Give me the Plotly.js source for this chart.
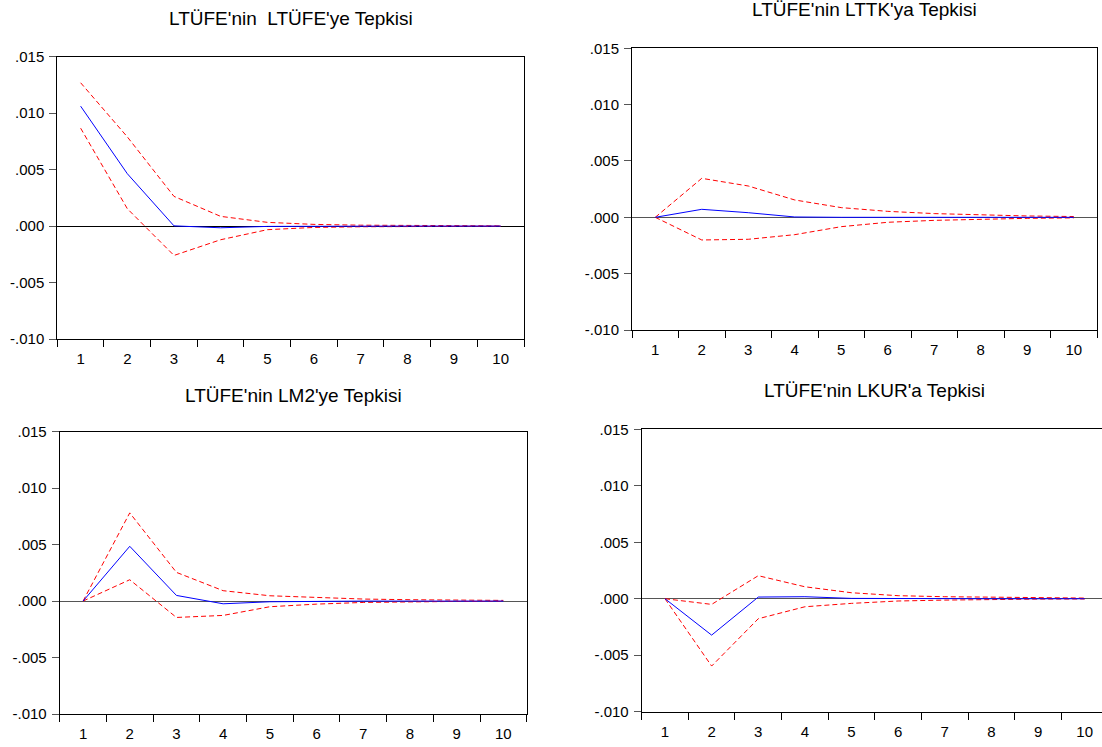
<!DOCTYPE html>
<html>
<head>
<meta charset="utf-8">
<script src="https://cdn.plot.ly/plotly-3.0.1.min.js"></script>
<style>
html,body{margin:0;padding:0;overflow:hidden;background:#fff;}
#chart{width:1110px;height:747px;}
</style>
</head>
<body>
<div id="chart"></div>
<script>
// ---- data ----
const periods = ["1","2","3","4","5","6","7","8","9","10"];
const yTickVals = [-0.010, -0.005, 0.000, 0.005, 0.010, 0.015];
const yTickText = ["-.010", "-.005", ".000", ".005", ".010", ".015"];
const titles = [
  "LTÜFE'nin \u00a0LTÜFE'ye Tepkisi",
  "LTÜFE'nin LTTK'ya Tepkisi",
  "LTÜFE'nin LM2'ye Tepkisi",
  "LTÜFE'nin LKUR'a Tepkisi"
];
// LTÜFE -> LTÜFE
const resp1  = [0.01062, 0.00464, 0.00002, -0.00015, -0.00003, 0.00000, 0.00000, 0.00000, 0.00000, 0.00000];
const upper1 = [0.01269, 0.00790, 0.00263, 0.00086, 0.00033, 0.00015, 0.00008, 0.00005, 0.00003, 0.00002];
const lower1 = [0.00867, 0.00154, -0.00260, -0.00121, -0.00032, -0.00012, -0.00006, -0.00003, -0.00002, -0.00001];
// LTÜFE -> LTTK
const resp2  = [0.00000, 0.00071, 0.00041, 0.00003, 0.00000, 0.00000, 0.00000, 0.00000, 0.00000, 0.00000];
const upper2 = [0.00000, 0.00346, 0.00278, 0.00154, 0.00086, 0.00053, 0.00033, 0.00020, 0.00012, 0.00007];
const lower2 = [0.00000, -0.00201, -0.00195, -0.00154, -0.00083, -0.00044, -0.00027, -0.00015, -0.00009, -0.00005];
// LTÜFE -> LM2
const resp3  = [0.00000, 0.00485, 0.00050, -0.00024, -0.00006, 0.00000, 0.00000, 0.00000, 0.00000, 0.00000];
const upper3 = [0.00000, 0.00781, 0.00254, 0.00092, 0.00047, 0.00030, 0.00018, 0.00012, 0.00009, 0.00006];
const lower3 = [0.00000, 0.00189, -0.00145, -0.00127, -0.00050, -0.00027, -0.00012, -0.00006, -0.00003, -0.00002];
// LTÜFE -> LKUR
const resp4  = [0.00000, -0.00322, 0.00015, 0.00018, 0.00003, 0.00000, 0.00000, 0.00000, 0.00000, 0.00000];
const upper4 = [0.00000, -0.00050, 0.00204, 0.00106, 0.00053, 0.00027, 0.00018, 0.00012, 0.00009, 0.00006];
const lower4 = [0.00000, -0.00596, -0.00177, -0.00071, -0.00041, -0.00020, -0.00012, -0.00006, -0.00003, -0.00002];

const panels = [
  {resp: resp1, upper: upper1, lower: lower1},
  {resp: resp2, upper: upper2, lower: lower2},
  {resp: resp3, upper: upper3, lower: lower3},
  {resp: resp4, upper: upper4, lower: lower4}
];

// ---- layout geometry (pixels) ----
const W = 1110, H = 747;
const boxes = [
  {l: 57.3, r: 524.0, t: 56.7, b: 339.0, ty: 19, zc: "#000000"},
  {l: 632.0, r: 1097.0, t: 48.3, b: 330.0, ty: 10, zc: "#555555"},
  {l: 59.7, r: 526.7, t: 431.7, b: 714.0, ty: 395, zc: "#555555"},
  {l: 641.7, r: 1108.0, t: 429.3, b: 711.7, ty: 391, zc: "#555555"}
];
const FONT = "Arial, 'Liberation Sans', sans-serif";

const traces = [];
const layout = {
  width: W, height: H,
  margin: {l: 0, r: 0, t: 0, b: 0, pad: 0},
  paper_bgcolor: "#ffffff",
  plot_bgcolor: "rgba(0,0,0,0)",
  showlegend: false,
  font: {family: FONT, size: 15, color: "#000000"},
  annotations: []
};

panels.forEach((p, i) => {
  const n = i + 1;
  const xa = "x" + (n === 1 ? "" : n), ya = "y" + (n === 1 ? "" : n);
  const xk = "xaxis" + (n === 1 ? "" : n), yk = "yaxis" + (n === 1 ? "" : n);
  const bx = boxes[i];
  traces.push({x: periods, y: p.upper, xaxis: xa, yaxis: ya, type: "scatter", mode: "lines",
    line: {color: "#ff0000", width: 1, dash: "5px,3px"}, hoverinfo: "skip"});
  traces.push({x: periods, y: p.lower, xaxis: xa, yaxis: ya, type: "scatter", mode: "lines",
    line: {color: "#ff0000", width: 1, dash: "5px,3px"}, hoverinfo: "skip"});
  traces.push({x: periods, y: p.resp, xaxis: xa, yaxis: ya, type: "scatter", mode: "lines",
    line: {color: "#0000ff", width: 1}, hoverinfo: "skip"});
  layout[xk] = {
    type: "category",
    domain: [bx.l / W, bx.r / W],
    anchor: ya,
    range: [-0.5, 9.5],
    tickson: "boundaries",
    ticks: "outside", ticklen: 7, tickwidth: 1, tickcolor: "#000000",
    showline: true, mirror: true, linecolor: "#000000", linewidth: 1,
    showgrid: false, zeroline: false,
    tickfont: {family: FONT, size: 15, color: "#000000"},
    ticklabelstandoff: 6,
    fixedrange: true
  };
  layout[yk] = {
    domain: [1 - bx.b / H, 1 - bx.t / H],
    anchor: xa,
    range: [-0.010, 0.015],
    tickvals: yTickVals, ticktext: yTickText,
    ticks: "outside", ticklen: 7, tickwidth: 1, tickcolor: "#555555",
    showline: true, mirror: true, linecolor: "#000000", linewidth: 1,
    showgrid: false,
    zeroline: true, zerolinecolor: bx.zc, zerolinewidth: 1,
    tickfont: {family: FONT, size: 15, color: "#000000"},
    ticklabelstandoff: 2,
    fixedrange: true
  };
  layout.annotations.push({
    xref: "paper", yref: "paper",
    x: ((bx.l + bx.r) / 2) / W, y: 1 - bx.ty / H,
    xanchor: "center", yanchor: "middle",
    text: titles[i], showarrow: false,
    font: {family: FONT, size: 19, color: "#000000"}
  });
});

Plotly.newPlot("chart", traces, layout, {staticPlot: true, displayModeBar: false});
</script>
</body>
</html>
